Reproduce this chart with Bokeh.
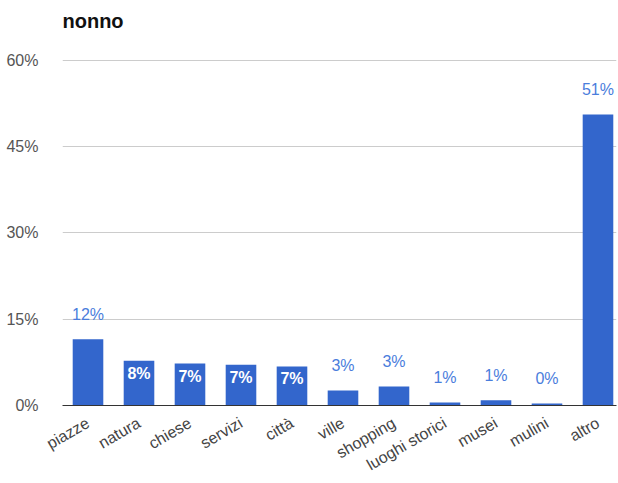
import math
from bokeh.plotting import figure
from bokeh.models import ColumnDataSource, Range1d, FixedTicker, PrintfTickFormatter, Label
from bokeh.core.properties import value
from bokeh.embed import file_html
from bokeh.resources import INLINE

categories = ["piazze", "natura", "chiese", "servizi", "città", "ville",
              "shopping", "luoghi storici", "musei", "mulini", "altro"]
values = [11.5, 7.8, 7.3, 7.1, 6.8, 2.6, 3.3, 0.5, 0.9, 0.35, 50.6]
labels = ["12%", "8%", "7%", "7%", "7%", "3%", "3%", "1%", "1%", "0%", "51%"]
inside = [False, True, True, True, True, False, False, False, False, False, False]
y_ticks = [0, 15, 30, 45, 60]

FONT = "Liberation Sans"
BLUE = "#3366cc"

# frame extends above the 60% line to leave room for the title inside it
TOP_PAD = 55  # px above the 60% gridline
PX_PER_UNIT = 346 / 60
y_end = 60 + TOP_PAD / PX_PER_UNIT

xs = list(range(len(categories)))
p = figure(width=618, height=483, output_backend="svg", toolbar_location=None,
           x_range=Range1d(-0.5, 10.363), y_range=Range1d(0, y_end),
           min_border_left=62, min_border_right=2, min_border_top=60 - TOP_PAD,
           min_border_bottom=77, outline_line_color=None)

title = Label(x=-0.5, y=y_end, y_offset=-15, text="nonno",
              text_font=FONT, text_font_size="20px", text_font_style="bold",
              text_color="#111111", text_baseline="middle", text_align="left")
p.add_layout(title)

src = ColumnDataSource(dict(x=xs, top=values))
p.vbar(x="x", top="top", width=0.6, source=src, fill_color=BLUE, line_color=None)

out_x = [x for x, f in zip(xs, inside) if not f]
out_y = [v for v, f in zip(values, inside) if not f]
out_t = [t for t, f in zip(labels, inside) if not f]
p.text(x=out_x, y=out_y, text=out_t, text_font=value(FONT), text_font_size="16px",
       text_color="#4a7ddc", text_align="center", text_baseline="middle", y_offset=-25)

in_x = [x for x, f in zip(xs, inside) if f]
in_y = [v for v, f in zip(values, inside) if f]
in_t = [t for t, f in zip(labels, inside) if f]
p.text(x=in_x, y=in_y, text=in_t, text_font=value(FONT), text_font_size="16px",
       text_font_style="bold", text_color="#ffffff", text_align="center",
       text_baseline="top", y_offset=4)

# axes
p.yaxis.ticker = FixedTicker(ticks=y_ticks)
p.yaxis.formatter = PrintfTickFormatter(format="%d%%")
p.yaxis.axis_line_color = None
p.yaxis.major_tick_line_color = None
p.yaxis.minor_tick_line_color = None
p.yaxis.major_label_text_font = FONT
p.yaxis.major_label_text_font_size = "16px"
p.yaxis.major_label_text_color = "#555555"
p.yaxis.major_label_standoff = 18

p.xaxis.ticker = FixedTicker(ticks=xs)
p.xaxis.major_label_overrides = {i: c for i, c in enumerate(categories)}
p.xaxis.axis_line_color = "#333333"
p.xaxis.axis_line_width = 1
p.xaxis.major_tick_line_color = None
p.xaxis.minor_tick_line_color = None
p.xaxis.major_label_orientation = math.pi / 6
p.xaxis.major_label_text_font = FONT
p.xaxis.major_label_text_font_size = "16px"
p.xaxis.major_label_text_color = "#444444"
p.xaxis.major_label_standoff = 10

p.xgrid.grid_line_color = None
p.ygrid.ticker = FixedTicker(ticks=y_ticks)
p.ygrid.grid_line_color = "#cccccc"

open("out.html", "w").write(file_html(p, INLINE))
